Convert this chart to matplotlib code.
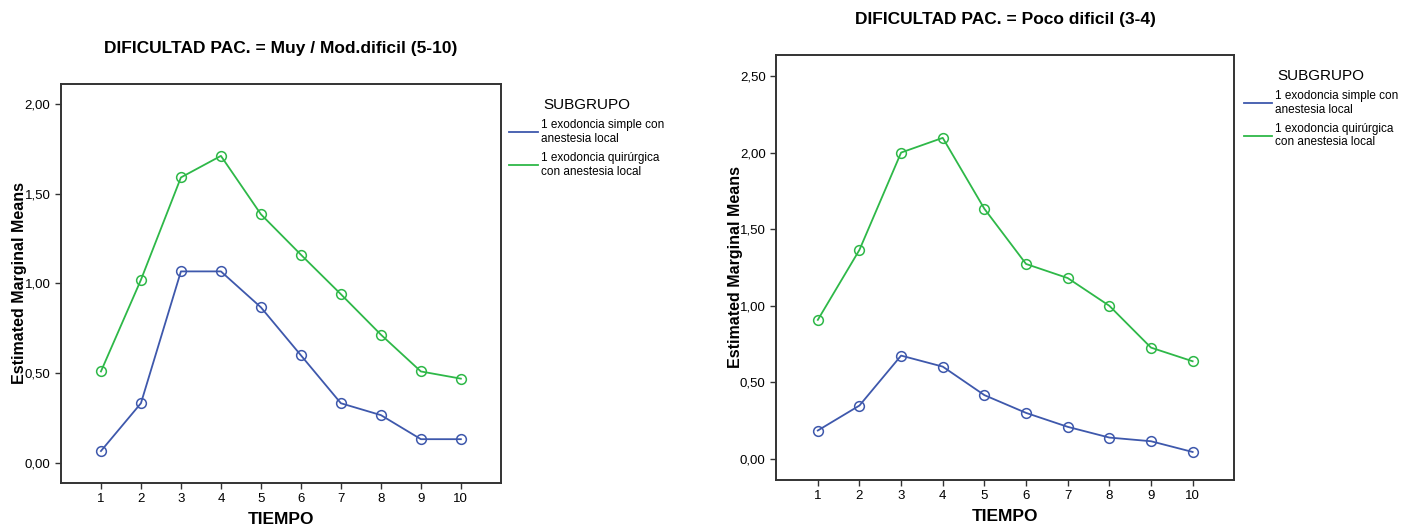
import matplotlib.pyplot as plt
from matplotlib.lines import Line2D

plt.rcParams['font.family'] = ['Liberation Sans Narrow', 'Liberation Sans', 'DejaVu Sans']

# Data
tiempo = [1, 2, 3, 4, 5, 6, 7, 8, 9, 10]
series_labels = ['1 exodoncia simple con\nanestesia local',
                 '1 exodoncia quirúrgica\ncon anestesia local']

# Panel 1: DIFICULTAD PAC. = Muy / Mod.dificil (5-10)
muy_simple = [0.067, 0.333, 1.067, 1.067, 0.867, 0.600, 0.333, 0.267, 0.133, 0.133]
muy_quirurgica = [0.51, 1.02, 1.59, 1.71, 1.385, 1.16, 0.94, 0.715, 0.51, 0.47]

# Panel 2: DIFICULTAD PAC. = Poco dificil (3-4)
poco_simple = [0.186, 0.349, 0.675, 0.603, 0.417, 0.301, 0.210, 0.140, 0.116, 0.046]
poco_quirurgica = [0.908, 1.365, 2.00, 2.096, 1.633, 1.273, 1.181, 1.00, 0.727, 0.638]

titles = ['DIFICULTAD PAC. = Muy / Mod.dificil (5-10)',
          'DIFICULTAD PAC. = Poco dificil (3-4)']
yticks_list = [[0, 0.5, 1.0, 1.5, 2.0], [0, 0.5, 1.0, 1.5, 2.0, 2.5]]

BLUE = '#3e58ac'
GREEN = '#2eb848'

fig = plt.figure(figsize=(14.01, 5.28), dpi=100)

ax_rects = [[0.0435, 0.0852, 0.314, 0.756], [0.554, 0.0909, 0.327, 0.805]]
ylims = [(-0.111, 2.111), (-0.137, 2.637)]
legend_pos = [(0.356, 0.835), (0.880, 0.890)]
title_pads = [22, 22]
data = [(muy_simple, muy_quirurgica), (poco_simple, poco_quirurgica)]

for i in range(2):
    ax = fig.add_axes(ax_rects[i])
    s1, s2 = data[i]
    for vals, col in [(s1, BLUE), (s2, GREEN)]:
        ax.plot(tiempo, vals, color=col, lw=1.3, marker='o', ms=7,
                mfc='none', mec=col, mew=1.1)
    ax.set_xlim(0, 11)
    ax.set_ylim(*ylims[i])
    ax.set_xticks(tiempo)
    ax.set_yticks(yticks_list[i])
    ax.set_yticklabels([f'{v:.2f}'.replace('.', ',') for v in yticks_list[i]])
    ax.tick_params(labelsize=9.5, length=4, width=1, color='#333333')
    for sp in ax.spines.values():
        sp.set_linewidth(1.4)
        sp.set_color('#333333')
    ax.set_title(titles[i], fontsize=12.5, fontweight='bold', pad=title_pads[i],
                 family=['Liberation Sans', 'DejaVu Sans'])
    ax.set_xlabel('TIEMPO', fontsize=12.5, fontweight='bold', labelpad=5,
                  family=['Liberation Sans', 'DejaVu Sans'])
    ax.set_ylabel('Estimated Marginal Means', fontsize=11.5, fontweight='bold',
                  labelpad=-2, family=['Liberation Sans', 'DejaVu Sans'])

    handles = [Line2D([], [], color=BLUE, lw=1.3), Line2D([], [], color=GREEN, lw=1.3)]
    leg = fig.legend(handles, series_labels, title='SUBGRUPO', loc='upper left',
                     bbox_to_anchor=legend_pos[i], frameon=False, fontsize=8.5,
                     title_fontsize=11, handlelength=2.4, handletextpad=0.3,
                     labelspacing=0.6)
    leg._legend_box.align = 'center'

fig.savefig('out.png', dpi=100)
